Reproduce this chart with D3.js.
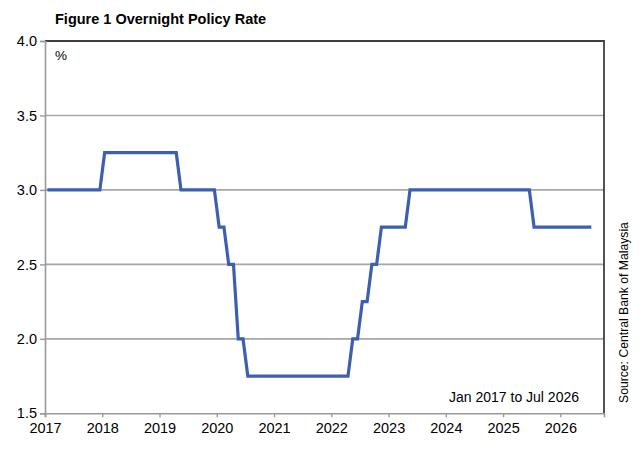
<!DOCTYPE html>
<html><head><meta charset="utf-8">
<script src="https://cdn.jsdelivr.net/npm/d3@7"></script>
<style>body{margin:0;background:#fff}svg{display:block;font-family:"Liberation Sans",Arial,sans-serif}</style>
</head><body>
<svg id="c" width="644" height="458"></svg>
<script>
const titleText = "Figure 1 Overnight Policy Rate";
const unitLabel = "%";
const rangeLabel = "Jan 2017 to Jul 2026";
const sourceLabel = "Source: Central Bank of Malaysia";
const startYear = 2017;
const yearTicks = [2017,2018,2019,2020,2021,2022,2023,2024,2025,2026];
const yTicks = [1.5,2.0,2.5,3.0,3.5,4.0];
// Monthly OPR, Jan 2017 .. Jul 2026 (one row per year)
const rate2017 = [3.00,3.00,3.00,3.00,3.00,3.00,3.00,3.00,3.00,3.00,3.00,3.00];
const rate2018 = [3.25,3.25,3.25,3.25,3.25,3.25,3.25,3.25,3.25,3.25,3.25,3.25];
const rate2019 = [3.25,3.25,3.25,3.25,3.00,3.00,3.00,3.00,3.00,3.00,3.00,3.00];
const rate2020 = [2.75,2.75,2.50,2.50,2.00,2.00,1.75,1.75,1.75,1.75,1.75,1.75];
const rate2021 = [1.75,1.75,1.75,1.75,1.75,1.75,1.75,1.75,1.75,1.75,1.75,1.75];
const rate2022 = [1.75,1.75,1.75,1.75,2.00,2.00,2.25,2.25,2.50,2.50,2.75,2.75];
const rate2023 = [2.75,2.75,2.75,2.75,3.00,3.00,3.00,3.00,3.00,3.00,3.00,3.00];
const rate2024 = [3.00,3.00,3.00,3.00,3.00,3.00,3.00,3.00,3.00,3.00,3.00,3.00];
const rate2025 = [3.00,3.00,3.00,3.00,3.00,3.00,2.75,2.75,2.75,2.75,2.75,2.75];
const rate2026 = [2.75,2.75,2.75,2.75,2.75,2.75,2.75];
const rates = [].concat(rate2017,rate2018,rate2019,rate2020,rate2021,rate2022,rate2023,rate2024,rate2025,rate2026);

const svg = d3.select("#c");
const L = 45, R = 604, T = 41, B = 413.3;
const x = d3.scaleLinear().domain([0, 117.15]).range([L, R]);
const y = d3.scaleLinear().domain([1.5, 4.0]).range([B, T]);

// gridlines
svg.append("g").selectAll("line").data(yTicks.filter(d => d > 1.5 && d < 4.0)).join("line")
  .attr("x1", L).attr("x2", R).attr("y1", d => y(d)).attr("y2", d => y(d))
  .attr("stroke", "#a6a6a6").attr("stroke-width", 1.6);

// top and right border
svg.append("path").attr("d", `M${L},${T}H${R}V${B}`).attr("fill", "none")
  .attr("stroke", "#404040").attr("stroke-width", 1.8);

// y axis
const yAxis = svg.append("g").attr("transform", `translate(${L},0)`)
  .call(d3.axisLeft(y).tickValues(yTicks).tickFormat(d3.format(".1f")).tickSize(5).tickPadding(3));
yAxis.select(".domain").attr("stroke", "#999").attr("stroke-width", 1.6);
yAxis.selectAll(".tick line").attr("stroke", "#999").attr("stroke-width", 1.4);
yAxis.selectAll("text").attr("font-size", 14.5).attr("fill", "#000").attr("font-family", "Liberation Sans, Arial, sans-serif");

// x axis
const xAxis = svg.append("g").attr("transform", `translate(0,${B})`)
  .call(d3.axisBottom(x).tickValues(yearTicks.map(yr => (yr - startYear) * 12)).tickFormat((d) => String(startYear + d / 12)).tickSize(4).tickPadding(5));
xAxis.select(".domain").attr("stroke", "#999").attr("stroke-width", 1.6);
xAxis.selectAll(".tick line").attr("stroke", "#999").attr("stroke-width", 1.4);
xAxis.selectAll("text").attr("font-size", 14.5).attr("fill", "#000").attr("font-family", "Liberation Sans, Arial, sans-serif");

// line
const line = d3.line().x((d, i) => x(i + 0.5)).y(d => y(d));
svg.append("path").datum(rates).attr("d", line).attr("fill", "none")
  .attr("stroke", "#3d5fb0").attr("stroke-width", 3.2).attr("stroke-linejoin", "miter");

// texts
svg.append("text").attr("x", 55).attr("y", 24).attr("font-size", 14.5).attr("font-weight", "bold").text(titleText);
svg.append("text").attr("x", 55).attr("y", 60).attr("font-size", 13.5).text(unitLabel);
svg.append("text").attr("x", 579).attr("y", 402).attr("text-anchor", "end").attr("font-size", 14).text(rangeLabel);
svg.append("text").attr("transform", "translate(627.5,403) rotate(-90)").attr("font-size", 12.2).text(sourceLabel);
</script>
</body></html>
